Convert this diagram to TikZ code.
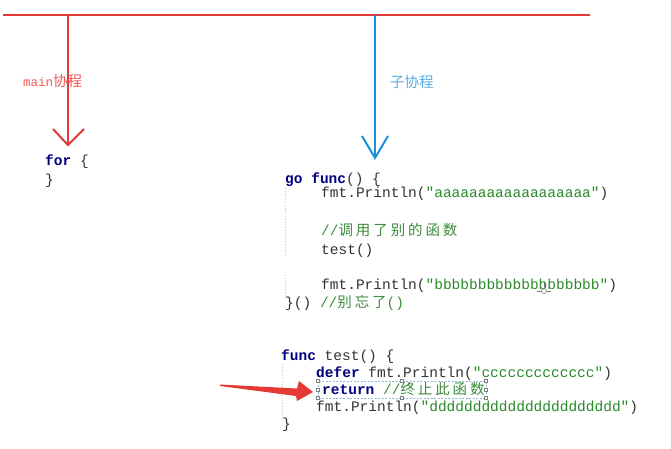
\documentclass[tikz,border=0pt]{standalone}
\usepackage{fontspec}
\setmainfont{Liberation Sans}
\setmonofont{Liberation Mono}
\newfontfamily\cjk{Noto Sans CJK SC}
\newfontfamily\cjkcode[LetterSpace=20]{Noto Sans CJK SC}
\definecolor{linered}{HTML}{E53935}
\definecolor{lineblue}{HTML}{1A90D8}
\definecolor{labred}{HTML}{EE5A5A}
\definecolor{labblue}{HTML}{5AAEE2}
\definecolor{kwnavy}{HTML}{000080}
\definecolor{strgreen}{HTML}{2A8A2A}
\definecolor{cmgreen}{HTML}{3C8C3C}
\definecolor{codegray}{HTML}{333333}
\definecolor{guidegray}{HTML}{C8C8C8}
\definecolor{selblue}{HTML}{8FB8D8}
\newcommand{\gokw}[1]{\textcolor{kwnavy}{\bfseries #1}}
\newcommand{\gostr}[1]{\textcolor{strgreen}{#1}}
\newcommand{\gocm}[1]{\textcolor{cmgreen}{#1}}
\newcommand{\codefont}{\ttfamily\fontsize{14.5}{17}\selectfont}
\begin{document}
\begin{tikzpicture}[x=1pt,y=-1pt,
  code/.style={anchor=base west,inner sep=0pt,font=\codefont,text=codegray},
  lab/.style={anchor=west,inner sep=0pt},
  redline/.style={draw=linered,line width=2pt},
  blueline/.style={draw=lineblue,line width=2pt},
  guide/.style={draw=guidegray,line width=0.8pt,dotted},
  handle/.style={draw=gray,fill=white,line width=0.5pt,minimum size=3pt,inner sep=0pt}]
\useasboundingbox[fill=white] (0,0) rectangle (671,449);

% timeline
\coordinate (tl) at (3,15);
\coordinate (tr) at (590,15);
\coordinate (mtop) at (68,15);
\coordinate (mtip) at (68,145);
\coordinate (ml) at (53,129);
\coordinate (mr) at (84,129);
\coordinate (stop) at (375,15);
\coordinate (stip) at (375,158);
\coordinate (sl) at (362,136);
\coordinate (sr) at (388,136);
\draw[redline] (tl) -- (tr);
\draw[redline] (mtop) -- (mtip);
\draw[redline,line join=miter] (ml) -- (mtip) -- (mr);
\draw[blueline] (stop) -- (stip);
\draw[blueline,line join=miter] (sl) -- (stip) -- (sr);

% labels
\node[lab,text=labred] (mainlab) at (23,81) {\ttfamily\fontsize{12.5}{14}\selectfont main\cjk\fontsize{14.5}{16}\selectfont 协程};
\node[lab,text=labblue] (sublab) at (390,82) {\cjk\fontsize{14.5}{16}\selectfont 子协程};

% main for loop
\node[code] (for1) at (45,166) {\gokw{for} \{};
\node[code] (for2) at (45,184) {\}};

% goroutine
\draw[guide] (285,188) -- (285,258);
\draw[guide] (285,275) -- (285,298);
\node[code] (g1) at (285,183) {\gokw{go} \gokw{func}() \{};
\node[code] (g2) at (321,197) {fmt.Println(\gostr{"aaaaaaaaaaaaaaaaaa"})};
\node[code] (g3) at (321,235) {\gocm{//\cjkcode\fontsize{14.5}{17}\selectfont 调用了别的函数}};
\node[code] (g4) at (321,254) {test()};
\node[code] (g5) at (321,289) {fmt.Println(\gostr{"bbbbbbbbbbbbbbbbbbb"})};
\node[code] (g6) at (285,307) {\}() \gocm{//\cjkcode\fontsize{14.5}{17}\selectfont 别忘了\ttfamily\fontsize{14.5}{17}\selectfont()}};

% cursor
\coordinate (cur) at (544,291);
\draw[gray,line width=0.6pt] (cur) circle (2.5);
\draw[gray,line width=0.6pt] ([xshift=-7pt]cur) -- ([xshift=-2.5pt]cur) ([xshift=2.5pt]cur) -- ([xshift=7pt]cur);
\draw[gray,line width=0.6pt] ([yshift=2.5pt]cur) -- ([yshift=8pt]cur);

% test function
\draw[guide] (282,364) -- (282,420);
\node[code] (t1) at (281,360) {\gokw{func} test() \{};
\node[code] (t2) at (316,377) {\gokw{defer} fmt.Println(\gostr{"ccccccccccccc"})};
\node[code] (t3) at (322,394) {\gokw{return} \gocm{//\cjkcode\fontsize{14.5}{17}\selectfont 终止此函数}};
\node[code] (t4) at (316,411) {fmt.Println(\gostr{"dddddddddddddddddddddd"})};
\node[code] (t5) at (282,428) {\}};

% selection box
\coordinate (sa) at (318,381);
\coordinate (sb) at (486,398);
\draw[selblue,dashed,dash pattern=on 2pt off 1.5pt,line width=0.6pt] (sa) rectangle (sb);
\foreach \p in {(318,381),(402,381),(486,381),(318,389.5),(486,389.5),(318,398),(402,398),(486,398)}
  \node[handle] at \p {};

% red pointer arrow
\coordinate (ptail) at (220,384.5);
\coordinate (ptip) at (313,392);
\fill[linered] (ptail) -- (297,388.5) -- (299,381) -- (ptip) -- (297,401) -- (296,396) -- (220,386) -- cycle;
\end{tikzpicture}
\end{document}
